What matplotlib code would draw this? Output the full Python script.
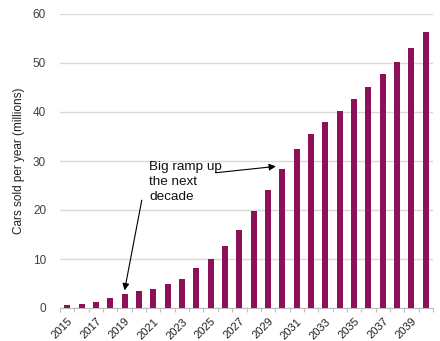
import matplotlib
matplotlib.use("Agg")
import matplotlib.pyplot as plt
import numpy as np

plt.rcParams['font.family'] = ['Liberation Sans', 'DejaVu Sans']

years = list(range(2015, 2041))
sales = [0.6, 0.8, 1.2, 2.0, 2.9, 3.4, 3.8, 4.8, 6.0, 8.2, 10.1, 12.7, 16.0,
         19.8, 24.1, 28.4, 32.4, 35.6, 38.0, 40.3, 42.7, 45.2, 47.8, 50.2, 53.1, 56.3]
yticks = [0, 10, 20, 30, 40, 50, 60]
ylabel = "Cars sold per year (millions)"
note = "Big ramp up\nthe next\ndecade"

bar_color = "#8C1159"

fig = plt.figure(figsize=(4.4, 3.41), dpi=100)
ax = fig.add_axes([60/440, 1-308/341, 373/440, 294/341])

x = np.arange(len(years))
ax.bar(x, sales, width=0.42, color=bar_color, zorder=3)

ax.set_xlim(-0.5, len(years) - 0.5)
ax.set_ylim(0, 60)
ax.set_yticks(yticks)
ax.set_yticklabels([str(v) for v in yticks], fontsize=8.5, color="#404040")
ax.tick_params(axis='y', length=0, pad=10)
ax.yaxis.grid(True, color="#d9d9d9", linewidth=1, zorder=0)

ax.set_xticks(x[::2])
ax.set_xticklabels([str(y) for y in years[::2]], rotation=45, ha='right',
                   rotation_mode='anchor', fontsize=8, color="#202020")
ax.tick_params(axis='x', which='major', length=0, pad=6)
ax.set_xticks(np.arange(-0.5, len(years)), minor=True)
ax.tick_params(axis='x', which='minor', length=3, color="#bfbfbf", width=0.8)

for s in ['top', 'right', 'left']:
    ax.spines[s].set_visible(False)
ax.spines['bottom'].set_color("#bfbfbf")
ax.spines['bottom'].set_linewidth(0.8)

ax.set_ylabel(ylabel, fontsize=8.5, color="#202020", labelpad=6)

# annotation text
ax.text(5.7, 29.9, note, fontsize=9.7, color="#111111", va='top', ha='left',
        linespacing=1.33)
ax.annotate("", xy=(x[4], 3.6), xytext=(5.2, 22.0),
            arrowprops=dict(arrowstyle='-|>', color='black', lw=0.8,
                            mutation_scale=10, shrinkA=0, shrinkB=0))
ax.annotate("", xy=(14.55, 28.9), xytext=(10.35, 27.6),
            arrowprops=dict(arrowstyle='-|>', color='black', lw=0.8,
                            mutation_scale=10, shrinkA=0, shrinkB=0))

fig.savefig("out.png", dpi=100)
